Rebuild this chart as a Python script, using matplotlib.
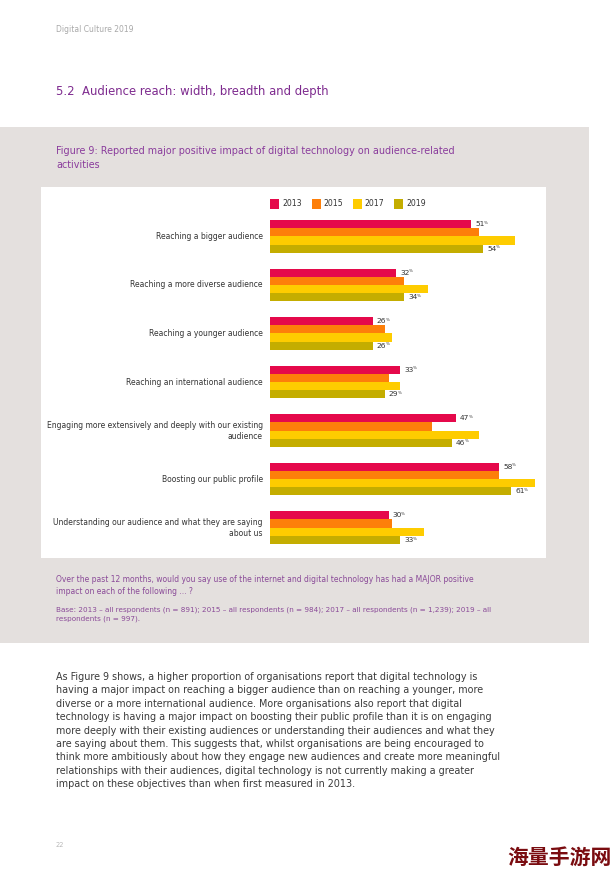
import matplotlib
matplotlib.use("Agg")
import matplotlib.pyplot as plt
from matplotlib.patches import Rectangle
import numpy as np

W, H = 616, 874

categories = [
    "Reaching a bigger audience",
    "Reaching a more diverse audience",
    "Reaching a younger audience",
    "Reaching an international audience",
    "Engaging more extensively and deeply with our existing\naudience",
    "Boosting our public profile",
    "Understanding our audience and what they are saying\nabout us",
]
years = ["2013", "2015", "2017", "2019"]
v2013 = [51, 32, 26, 33, 47, 58, 30]
v2015 = [53, 34, 29, 30, 41, 58, 31]
v2017 = [62, 40, 31, 33, 53, 67, 39]
v2019 = [54, 34, 26, 29, 46, 61, 33]
series = [v2013, v2015, v2017, v2019]
colors = ["#e5094b", "#fd7f0a", "#fecc00", "#c4ad00"]

header = "Digital Culture 2019"
section_title = "5.2  Audience reach: width, breadth and depth"
fig_caption = ("Figure 9: Reported major positive impact of digital technology on audience-related\n"
               "activities")
question = ("Over the past 12 months, would you say use of the internet and digital technology has had a MAJOR positive\n"
            "impact on each of the following ... ?")
base = ("Base: 2013 \u2013 all respondents (n = 891); 2015 \u2013 all respondents (n = 984); 2017 \u2013 all respondents (n = 1,239); 2019 \u2013 all\n"
        "respondents (n = 997).")
body = [
    "As Figure 9 shows, a higher proportion of organisations report that digital technology is",
    "having a major impact on reaching a bigger audience than on reaching a younger, more",
    "diverse or a more international audience. More organisations also report that digital",
    "technology is having a major impact on boosting their public profile than it is on engaging",
    "more deeply with their existing audiences or understanding their audiences and what they",
    "are saying about them. This suggests that, whilst organisations are being encouraged to",
    "think more ambitiously about how they engage new audiences and create more meaningful",
    "relationships with their audiences, digital technology is not currently making a greater",
    "impact on these objectives than when first measured in 2013.",
]
page_no = "22"
watermark = "海量手游网"

plt.rcParams['font.family'] = ['DejaVu Sans']

fig = plt.figure(figsize=(W / 100, H / 100), dpi=100)
fig.patch.set_facecolor("white")


def fx(x):
    return x / W


def fy(y):
    return 1 - y / H


def rect(x0, y0, x1, y1, color, z=-10):
    fig.patches.append(Rectangle((fx(x0), fy(y1)), (x1 - x0) / W, (y1 - y0) / H,
                                 transform=fig.transFigure, facecolor=color,
                                 edgecolor="none", zorder=z))


rect(0, 127, 589, 643, "#e4e0de", z=-20)
rect(41, 187, 546, 558, "white", z=-15)

purple = "#7e2b8f"
fig.text(fx(56), fy(30), header, fontsize=5.5, color="#a8a8a8", va="center", ha="left")
fig.text(fx(56), fy(91), section_title, fontsize=8.4, color=purple, va="center", ha="left")
fig.text(fx(56), fy(158), fig_caption, fontsize=6.9, color="#8a3c9c", va="center", ha="left",
         linespacing=1.4)
fig.text(fx(56), fy(585.5), question, fontsize=5.5, color="#8a4a98", va="center", ha="left",
         linespacing=1.4)
fig.text(fx(56), fy(614.5), base, fontsize=5.22, color="#8a4a98", va="center", ha="left",
         linespacing=1.45)
for i, line in enumerate(body):
    fig.text(fx(56), fy(677 + i * 13.4), line, fontsize=6.95, color="#3a3a3a",
             va="center", ha="left")
fig.text(fx(56), fy(845), page_no, fontsize=4.8, color="#b8b8b8", va="center", ha="left")
fig.text(fx(612), fy(857), watermark, fontsize=15, color="#7a0c10", va="center", ha="right",
         family=["Noto Sans CJK SC", "DejaVu Sans"], fontweight="bold")

# Legend
leg_x = [270, 311.5, 352.5, 394]
for x, yr, c in zip(leg_x, years, colors):
    rect(x, 199, x + 9, 208.5, c, z=1)
    fig.text(fx(x + 12), fy(204), yr, fontsize=5.6, color="#333333", va="center", ha="left")

# Bars
bar_px = 8.18
step = 48.55 / bar_px
n = len(categories)
top_px, bot_px = 220, 220 + ((n - 1) * step + 4) * bar_px
px_per_unit = 3.95
ax_left, ax_right = 270, 546
ax = fig.add_axes([fx(ax_left), fy(bot_px), (ax_right - ax_left) / W, (bot_px - top_px) / H])
ax.set_zorder(5)
ax.patch.set_visible(False)
ax.set_xlim(0, (ax_right - ax_left) / px_per_unit)
ax.set_ylim((n - 1) * step + 3.5, -0.5)
ax.axis("off")

base_y = np.arange(n) * step
for j, (vals, c) in enumerate(zip(series, colors)):
    ax.barh(base_y + j, vals, height=1.0, color=c, edgecolor="none")

for k, cat in enumerate(categories):
    ax.annotate(cat, xy=(0, base_y[k] + 1.5), xytext=(-5.3, 0), textcoords="offset points",
                ha="right", va="center", ma="right", fontsize=5.5, color="#333333",
                linespacing=1.3, annotation_clip=False)


def value_label(x, y, v):
    t = ax.annotate(str(v), xy=(x, y), xytext=(3.0, 0), textcoords="offset points",
                    ha="left", va="center", fontsize=5.4, color="#333333",
                    annotation_clip=False)
    ax.annotate("%", xy=(1.0, 1.0), xycoords=t, xytext=(-0.6, 0.3), textcoords="offset points",
                ha="left", va="top", fontsize=3.0, color="#333333", annotation_clip=False)


for k in range(n):
    value_label(v2013[k], base_y[k], v2013[k])
    value_label(v2019[k], base_y[k] + 3, v2019[k])

fig.savefig("out.png", dpi=100, facecolor="white")
